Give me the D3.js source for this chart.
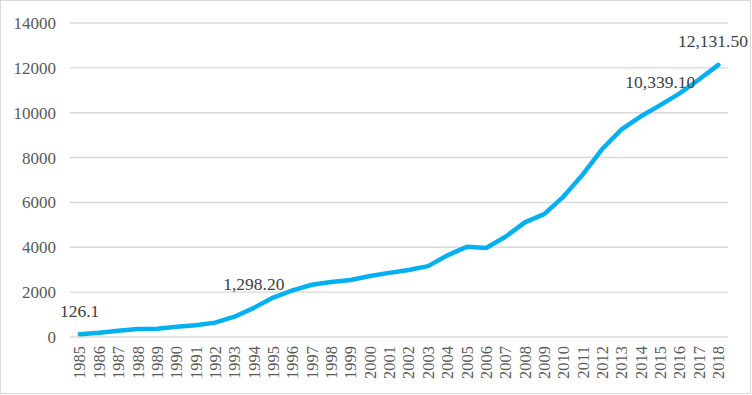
<!DOCTYPE html>
<html><head><meta charset="utf-8">
<script src="https://cdn.jsdelivr.net/npm/d3@7"></script>
<style>body{margin:0;background:#fff}svg{display:block}
text{font-family:"Liberation Serif","Times New Roman",serif}</style>
</head><body>
<svg id="c" width="752" height="395"></svg>
<script>
const years = ["1985","1986","1987","1988","1989","1990","1991","1992","1993","1994","1995","1996","1997","1998","1999","2000","2001","2002","2003","2004","2005","2006","2007","2008","2009","2010","2011","2012","2013","2014","2015","2016","2017","2018"];
const values = [126.1,190,280,356,370,460,520,640,905,1298.2,1760,2080,2330,2450,2540,2720,2860,2990,3160,3640,4020,3970,4470,5110,5480,6260,7250,8380,9260,9840,10339.1,10860,11480,12131.5];
const yTicks = [0,2000,4000,6000,8000,10000,12000,14000];
const labelled = ["1985","1994","2015","2018"];

const svg = d3.select("#c");
const W = 752, H = 395;
const m = {l:70, r:24, t:23, b:58};
svg.append("rect").attr("x",0.5).attr("y",0.5).attr("width",W-2).attr("height",H-2)
  .attr("fill","#fff").attr("stroke","#d9d9d9").attr("stroke-width",1);

const x = d3.scaleBand().domain(years).range([m.l, W-m.r]);
const y = d3.scaleLinear().domain([0,14000]).range([H-m.b, m.t]);

const font = "Liberation Serif, Times New Roman, serif";

// gridlines
svg.append("g").selectAll("line").data(yTicks).join("line")
  .attr("x1", m.l).attr("x2", W-m.r)
  .attr("y1", d=>y(d)).attr("y2", d=>y(d))
  .attr("stroke","#d9d9d9").attr("stroke-width",1.4);

// y axis labels
const ya = svg.append("g").attr("transform",`translate(${m.l},0)`)
  .call(d3.axisLeft(y).tickValues(yTicks).tickSize(0).tickPadding(14).tickFormat(d3.format("d")));
ya.attr("font-family",null);
ya.select(".domain").remove();
ya.selectAll("text").style("font-family",font).attr("font-size",17).attr("fill","#595959");

// x axis labels
const xa = svg.append("g").attr("transform",`translate(0,${H-m.b})`)
  .call(d3.axisBottom(x).tickSize(0).tickPadding(0));
xa.attr("font-family",null);
xa.select(".domain").remove();
xa.selectAll("text")
  .style("font-family",font).attr("font-size",16.5).attr("fill","#595959")
  .attr("text-anchor","end")
  .attr("transform","translate(0,9) rotate(-90)")
  .attr("dx",0).attr("dy","0.35em").attr("y",0).attr("x",0);

// line
const line = d3.line().x((d,i)=>x(years[i])+x.bandwidth()/2).y(d=>y(d));
svg.append("path").datum(values).attr("d",line)
  .attr("fill","none").attr("stroke","#00b0f0").attr("stroke-width",4.5)
  .attr("stroke-linejoin","round").attr("stroke-linecap","round");

// data labels
const fmt = v => v===126.1 ? "126.1" : d3.format(",.2f")(v);
const lg = svg.append("g");
labelled.forEach(yr=>{
  const i = years.indexOf(yr);
  const v = values[i];
  const t = lg.append("text").text(fmt(v))
    .style("font-family",font).attr("font-size",17.5).attr("fill","#404040")
    .attr("text-anchor","middle")
    .attr("x", x(yr)+x.bandwidth()/2).attr("y", y(v)-17.5);
  const bb = t.node().getBBox();
  if (bb.x + bb.width > W-4) t.attr("x", W-4-bb.width/2);
});
</script>
</body></html>
